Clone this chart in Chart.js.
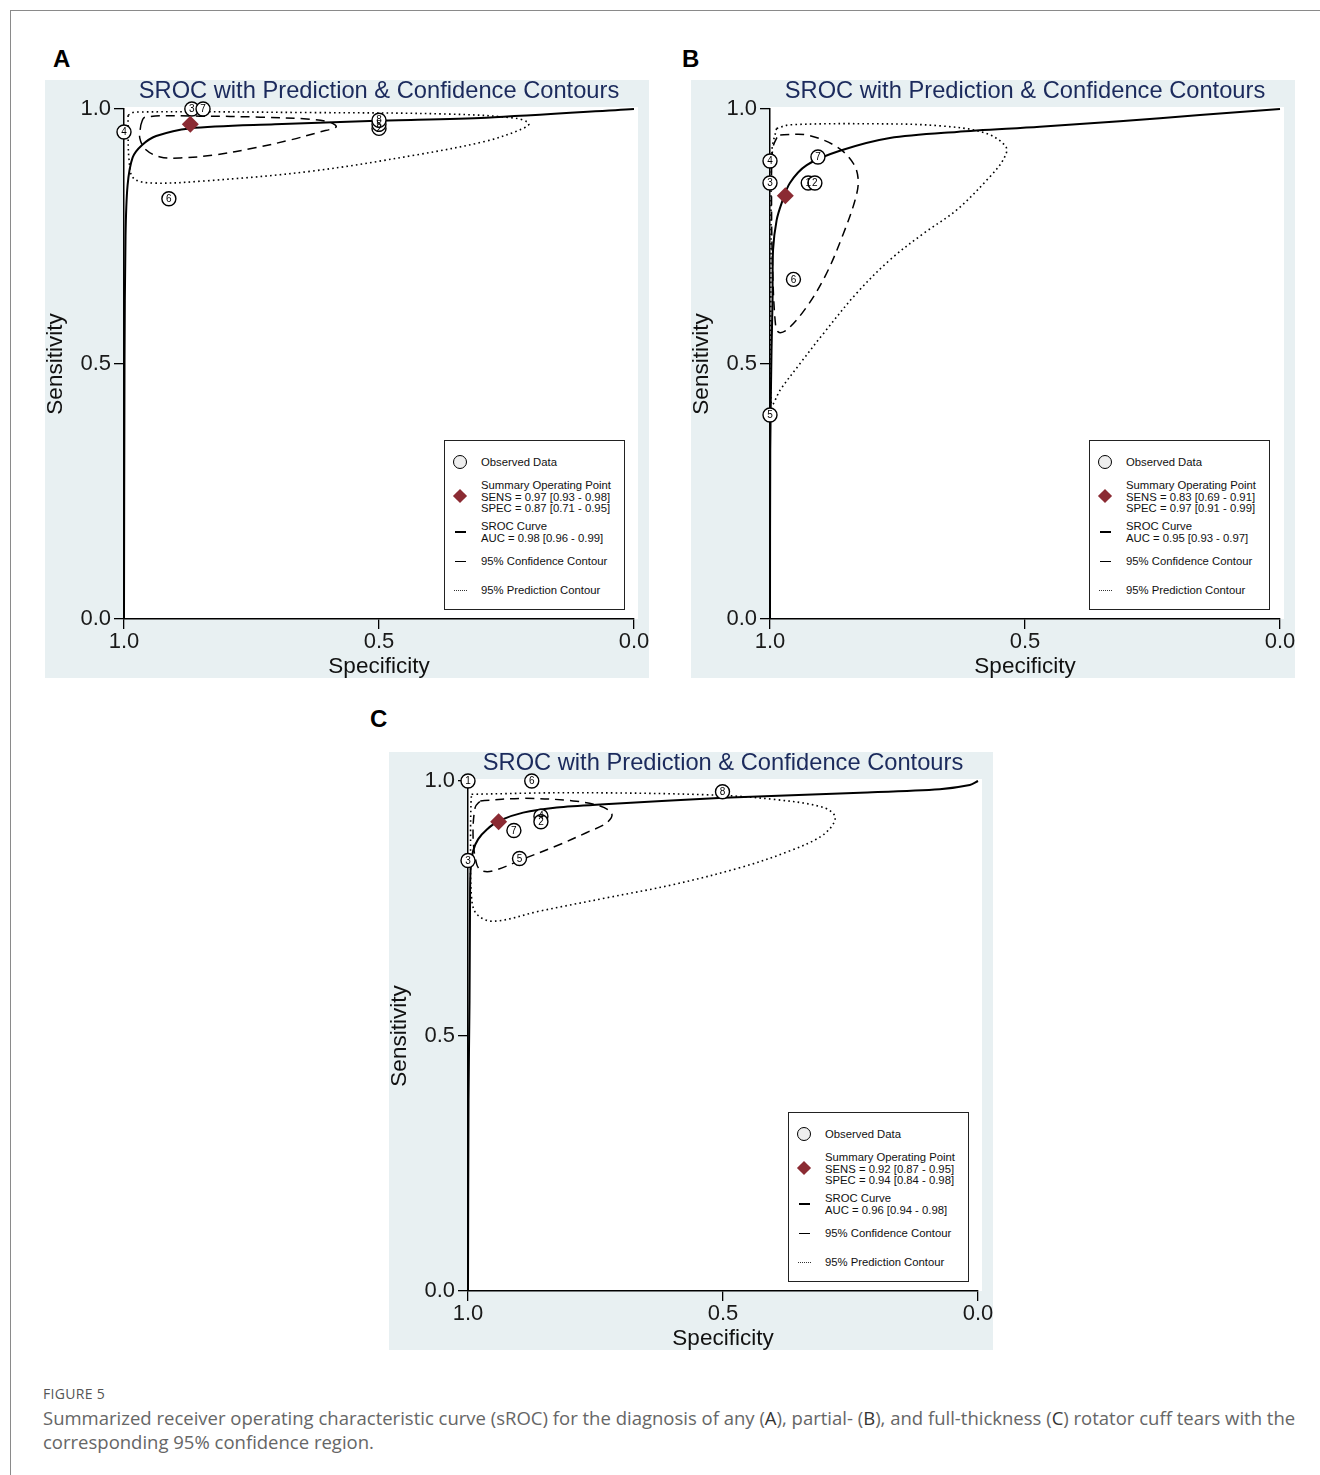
<!DOCTYPE html>
<html>
<head>
<meta charset="utf-8">
<script src="https://cdn.jsdelivr.net/npm/chart.js@4.4.1/dist/chart.umd.min.js"></script>
<style>
  html, body { margin: 0; padding: 0; background: #fff; }
  body { width: 1320px; height: 1475px; position: relative; overflow: hidden;
         font-family: 'Liberation Sans', Arial, sans-serif; }
  #frame { position: absolute; left: 10px; top: 10px; width: 1320px; height: 1480px;
           border-top: 1.5px solid #8a8a8a; border-left: 1.5px solid #8a8a8a; }
  .plabel { position: absolute; font: bold 24px/24px 'Liberation Sans', Arial, sans-serif; color: #000; }
  canvas.panel { position: absolute; background: #e8f0f2; }
  .legend { position: absolute; width: 179px; height: 168px; background: #fff;
            border: 1.5px solid #222; font-size: 11.3px; color: #111; }
  .legend .t { position: absolute; left: 36px; line-height: 11.5px; white-space: nowrap; }
  .legend .circ { position: absolute; left: 8px; top: 14px; width: 12px; height: 12px;
                  border: 1.6px solid #000; border-radius: 50%; background: #eee; }
  .legend .dia { position: absolute; left: 10px; top: 50px; width: 10px; height: 10px;
                 background: #8b2b33; transform: rotate(45deg); }
  .legend .ln { position: absolute; left: 10px; width: 11px; border-top: 2px solid #000; }
  .legend .dots { position: absolute; left: 9px; width: 13px; border-top: 1.5px dotted #333; }
  #caption { position: absolute; left: 43px; top: 1384px; font-family: 'Open Sans', sans-serif; color: #666; }
  #caption .fig { font-size: 14px; color: #555; letter-spacing: 0.3px; line-height: 20px; }
  #caption .txt { font-size: 18.5px; line-height: 24px; white-space: nowrap; margin-top: 2px; }
  #caption b { font-weight: normal; color: #333; }
</style>
</head>
<body>
<div id="frame"></div>

<div class="plabel" style="left:53px;top:47px">A</div>
<div class="plabel" style="left:682px;top:47px">B</div>
<div class="plabel" style="left:370px;top:707px">C</div>

<canvas id="chartA" class="panel" width="604" height="598" style="left:45px;top:80px"></canvas>
<canvas id="chartB" class="panel" width="604" height="598" style="left:691px;top:80px"></canvas>
<canvas id="chartC" class="panel" width="604" height="598" style="left:389px;top:752px"></canvas>

<div id="legendA" class="legend" style="left:444px;top:440px"></div>
<div id="legendB" class="legend" style="left:1089px;top:440px"></div>
<div id="legendC" class="legend" style="left:788px;top:1112px"></div>

<div id="caption">
  <div class="fig">FIGURE 5</div>
  <div class="txt">Summarized receiver operating characteristic curve (sROC) for the diagnosis of any (<b>A</b>), partial- (<b>B</b>), and full-thickness (<b>C</b>) rotator cuff tears with the<br>corresponding 95% confidence region.</div>
</div>

<script>
// shared axis / title text
const tickValues = [0, 0.5, 1];
const titleText = 'SROC with Prediction & Confidence Contours';
const xTitle = 'Specificity';
const yTitle = 'Sensitivity';

// ---- panel A (any tear) ----
const aStudyNames = ['4', '3', '7', '6', '2', '5', '8'];
const aStudySpec  = [1.0, 0.867, 0.845, 0.912, 0.5, 0.5, 0.5];
const aStudySens  = [0.955, 1.0, 1.0, 0.824, 0.962, 0.970, 0.978];
const aSummarySpec = [0.87];
const aSummarySens = [0.97];
const aSrocSpec = [1.0, 0.999, 0.997, 0.993, 0.983, 0.965, 0.937, 0.871, 0.704, 0.504, 0.290, 0.0];
const aSrocSens = [0.0, 0.5, 0.75, 0.85, 0.905, 0.929, 0.947, 0.962, 0.970, 0.977, 0.983, 1.0];
const aConfSpec = [0.967, 0.959, 0.851, 0.733, 0.635, 0.596, 0.584, 0.616, 0.675, 0.743, 0.822, 0.890, 0.929, 0.957, 0.969, 0.967];
const aConfSens = [0.969, 0.984, 0.986, 0.984, 0.980, 0.974, 0.965, 0.955, 0.939, 0.924, 0.910, 0.904, 0.906, 0.920, 0.943, 0.969];
const aPredSpec = [0.992, 0.978, 0.633, 0.361, 0.233, 0.206, 0.224, 0.290, 0.427, 0.633, 0.841, 0.949, 0.982, 0.990, 0.992, 0.992];
const aPredSens = [0.988, 0.994, 0.993, 0.990, 0.982, 0.971, 0.959, 0.937, 0.910, 0.878, 0.859, 0.855, 0.865, 0.900, 0.949, 0.988];
const aLegendStats = ['SENS = 0.97 [0.93 - 0.98]', 'SPEC = 0.87 [0.71 - 0.95]', 'AUC = 0.98 [0.96 - 0.99]'];

// ---- panel B (partial thickness) ----
const bStudyNames = ['4', '3', '1', '2', '7', '6', '5'];
const bStudySpec  = [1.0, 1.0, 0.925, 0.912, 0.906, 0.954, 1.0];
const bStudySens  = [0.898, 0.855, 0.855, 0.855, 0.906, 0.666, 0.40];
const bSummarySpec = [0.97];
const bSummarySens = [0.83];
const bSrocSpec = [1.0, 0.9995, 0.997, 0.995, 0.994, 0.987, 0.977, 0.961, 0.928, 0.863, 0.765, 0.634, 0.471, 0.314, 0.157, 0.0];
const bSrocSens = [0.0, 0.331, 0.527, 0.625, 0.724, 0.782, 0.816, 0.855, 0.890, 0.918, 0.943, 0.955, 0.965, 0.976, 0.988, 1.0];
const bConfSpec = [0.980, 0.928, 0.869, 0.837, 0.827, 0.833, 0.856, 0.889, 0.928, 0.967, 0.984, 0.990, 0.995, 0.997, 0.995, 0.987, 0.980];
const bConfSens = [0.949, 0.949, 0.926, 0.894, 0.861, 0.822, 0.756, 0.678, 0.612, 0.567, 0.563, 0.586, 0.691, 0.822, 0.920, 0.943, 0.949];
const bPredSpec = [0.987, 0.961, 0.797, 0.667, 0.578, 0.537, 0.543, 0.569, 0.634, 0.699, 0.765, 0.830, 0.895, 0.941, 0.980, 0.996, 0.998, 0.998, 0.996, 0.987];
const bPredSens = [0.962, 0.969, 0.971, 0.967, 0.953, 0.925, 0.900, 0.867, 0.802, 0.756, 0.704, 0.639, 0.560, 0.501, 0.449, 0.420, 0.469, 0.724, 0.920, 0.962];
const bLegendStats = ['SENS = 0.83 [0.69 - 0.91]', 'SPEC = 0.97 [0.91 - 0.99]', 'AUC = 0.95 [0.93 - 0.97]'];

// ---- panel C (full thickness) ----
const cStudyNames = ['1', '6', '8', '4', '2', '7', '5', '3'];
const cStudySpec  = [1.0, 0.875, 0.501, 0.857, 0.857, 0.910, 0.899, 1.0];
const cStudySens  = [1.0, 1.0, 0.979, 0.931, 0.920, 0.903, 0.848, 0.844];
const cSummarySpec = [0.94];
const cSummarySens = [0.92];
const cSrocSpec = [1.0, 0.999, 0.997, 0.996, 0.995, 0.990, 0.980, 0.963, 0.939, 0.892, 0.826, 0.741, 0.499, 0.231, 0.075, 0.016, 0.0];
const cSrocSens = [0.0, 0.373, 0.569, 0.759, 0.824, 0.863, 0.886, 0.905, 0.922, 0.938, 0.948, 0.954, 0.967, 0.977, 0.984, 0.992, 1.0];
const cConfSpec = [0.976, 0.892, 0.794, 0.741, 0.718, 0.728, 0.767, 0.826, 0.892, 0.950, 0.973, 0.983, 0.990, 0.986, 0.976];
const cConfSens = [0.961, 0.966, 0.961, 0.951, 0.936, 0.918, 0.899, 0.873, 0.847, 0.824, 0.824, 0.837, 0.889, 0.948, 0.961];
const cPredSpec = [0.993, 0.794, 0.532, 0.401, 0.303, 0.280, 0.303, 0.369, 0.467, 0.597, 0.728, 0.859, 0.950, 0.983, 0.993, 0.995, 0.994, 0.993];
const cPredSens = [0.974, 0.977, 0.973, 0.964, 0.948, 0.928, 0.895, 0.863, 0.830, 0.797, 0.771, 0.745, 0.725, 0.739, 0.771, 0.889, 0.961, 0.974];
const cLegendStats = ['SENS = 0.92 [0.87 - 0.95]', 'SPEC = 0.94 [0.84 - 0.98]', 'AUC = 0.96 [0.94 - 0.98]'];

const FONT = "'Liberation Sans', Arial, sans-serif";
const pts = (xs, ys) => xs.map((x, i) => ({ x, y: ys[i] }));

// white plot region over the light panel
const plotBg = {
  id: 'plotBg',
  beforeDraw(chart) {
    const { ctx, chartArea: a } = chart;
    ctx.save();
    ctx.fillStyle = '#fff';
    ctx.fillRect(a.left, a.top - 2, a.right - a.left + 4, a.bottom - a.top + 2);
    ctx.restore();
  }
};

// study numbers inside the observed-data circles
const studyLabels = {
  id: 'studyLabels',
  afterDatasetsDraw(chart) {
    const { ctx } = chart;
    chart.data.datasets.forEach((ds, di) => {
      if (!ds.studyNames) return;
      const meta = chart.getDatasetMeta(di);
      ctx.save();
      ctx.font = '10px ' + FONT;
      ctx.fillStyle = '#000';
      ctx.textAlign = 'center';
      ctx.textBaseline = 'middle';
      meta.data.forEach((p, i) => ctx.fillText(ds.studyNames[i], p.x, p.y + 0.5));
      ctx.restore();
    });
  }
};

function axis(titleTextValue, isX) {
  return {
    type: 'linear',
    min: 0, max: 1,
    reverse: isX,
    z: isX ? 0 : 1,
    afterBuildTicks: s => { s.ticks = tickValues.map(v => ({ value: v })); },
    afterFit: s => { if (isX) s.height = 59; else s.width = 79; },
    ticks: {
      callback: v => v.toFixed(1),
      color: '#1a1a1a',
      font: { family: FONT, size: 22 },
      padding: isX ? 0 : 3,
      autoSkip: false, maxRotation: 0
    },
    grid: { display: true, drawOnChartArea: false, drawTicks: true, tickLength: 10, color: '#000', lineWidth: 1.3 },
    border: { display: true, color: '#000', width: 1.5 },
    title: { display: true, text: titleTextValue, color: '#111',
             font: { family: FONT, size: 22.5, lineHeight: 1 }, padding: 0 }
  };
}

function renderPanel(canvasId, d) {
  const ctx = document.getElementById(canvasId).getContext('2d');
  const line = (data, extra) => Object.assign({
    data, showLine: true, pointRadius: 0, borderColor: '#000', borderWidth: 1.5,
    tension: 0.35, fill: false, clip: false
  }, extra);

  new Chart(ctx, {
    type: 'scatter',
    data: {
      datasets: [
        { data: pts(d.sumSpec, d.sumSens), pointStyle: 'rectRot', pointRadius: 8.5,
          backgroundColor: '#8b2b33', borderColor: '#8b2b33', borderWidth: 0, order: 0, clip: false },
        { data: pts(d.studySpec, d.studySens), studyNames: d.studyNames, pointStyle: 'circle',
          pointRadius: 7, backgroundColor: '#fff', borderColor: '#000', borderWidth: 1.4, order: 1, clip: false },
        line(pts(d.srocSpec, d.srocSens), { borderWidth: 2, tension: 0.3, order: 2 }),
        line(pts(d.confSpec, d.confSens), { borderDash: [9, 6], order: 3 }),
        line(pts(d.predSpec, d.predSens), { borderDash: [1.6, 3.2], borderWidth: 1.6, order: 4 })
      ]
    },
    options: {
      responsive: false,
      animation: false,
      layout: { padding: { left: 0, right: 15, top: 0, bottom: 0 } },
      plugins: {
        legend: { display: false },
        tooltip: { enabled: false },
        title: {
          display: true, text: titleText, fullSize: false, color: '#1b2a5c',
          font: { family: FONT, size: 23.7, weight: 'normal', lineHeight: 1 },
          padding: { top: 0, bottom: 5.3 }
        }
      },
      scales: { x: axis(xTitle, true), y: axis(yTitle, false) }
    },
    plugins: [plotBg, studyLabels]
  });
}

function renderLegend(id, stats) {
  const el = document.getElementById(id);
  el.innerHTML =
    '<div class="circ"></div><div class="t" style="top:16px">Observed Data</div>' +
    '<div class="dia"></div>' +
    '<div class="t" style="top:39px">Summary Operating Point</div>' +
    '<div class="t" style="top:50.5px">' + stats[0] + '</div>' +
    '<div class="t" style="top:62px">' + stats[1] + '</div>' +
    '<div class="ln" style="top:90px"></div>' +
    '<div class="t" style="top:80px">SROC Curve</div>' +
    '<div class="t" style="top:91.5px">' + stats[2] + '</div>' +
    '<div class="ln" style="top:120px;border-top-width:1.5px"></div>' +
    '<div class="t" style="top:115px">95% Confidence Contour</div>' +
    '<div class="dots" style="top:149px"></div>' +
    '<div class="t" style="top:144px">95% Prediction Contour</div>';
}

renderPanel('chartA', { studyNames: aStudyNames, studySpec: aStudySpec, studySens: aStudySens,
  sumSpec: aSummarySpec, sumSens: aSummarySens, srocSpec: aSrocSpec, srocSens: aSrocSens,
  confSpec: aConfSpec, confSens: aConfSens, predSpec: aPredSpec, predSens: aPredSens });
renderPanel('chartB', { studyNames: bStudyNames, studySpec: bStudySpec, studySens: bStudySens,
  sumSpec: bSummarySpec, sumSens: bSummarySens, srocSpec: bSrocSpec, srocSens: bSrocSens,
  confSpec: bConfSpec, confSens: bConfSens, predSpec: bPredSpec, predSens: bPredSens });
renderPanel('chartC', { studyNames: cStudyNames, studySpec: cStudySpec, studySens: cStudySens,
  sumSpec: cSummarySpec, sumSens: cSummarySens, srocSpec: cSrocSpec, srocSens: cSrocSens,
  confSpec: cConfSpec, confSens: cConfSens, predSpec: cPredSpec, predSens: cPredSens });

renderLegend('legendA', aLegendStats);
renderLegend('legendB', bLegendStats);
renderLegend('legendC', cLegendStats);
</script>
</body>
</html>
